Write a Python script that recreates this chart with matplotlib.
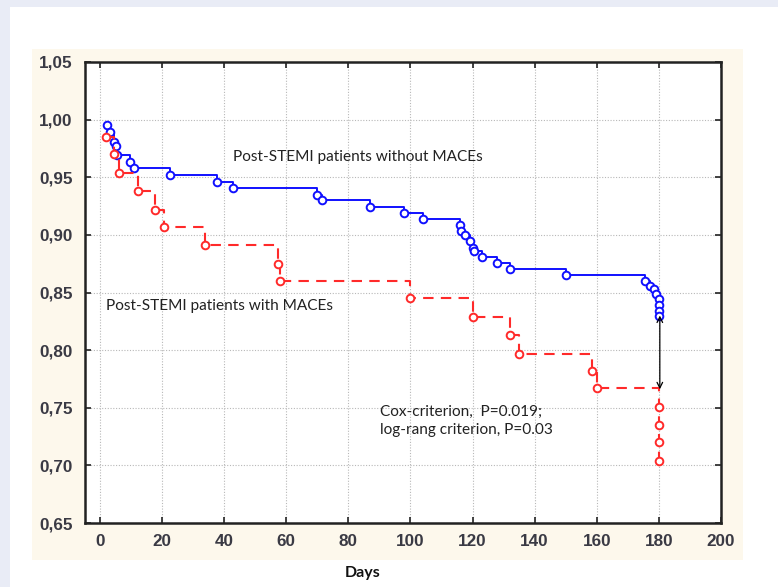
import matplotlib
matplotlib.use('Agg')
import matplotlib.pyplot as plt
from matplotlib.patches import Rectangle

# Kaplan-Meier data
no_mace_days = [2.2, 3.4, 4.6, 5.2, 5.6, 9.8, 11, 22.5, 37.7, 43, 70, 71.5, 87, 98, 104,
                116, 116.2, 117.5, 119.3, 120, 120.5, 123, 128, 132, 150,
                175.5, 177, 178.5, 179, 180, 180, 180, 180]
no_mace_surv = [0.995, 0.989, 0.981, 0.977, 0.969, 0.963, 0.958, 0.952, 0.946, 0.941, 0.935,
                0.930, 0.924, 0.919, 0.914, 0.909, 0.903, 0.900, 0.895, 0.889, 0.886, 0.881,
                0.876, 0.870, 0.865, 0.860, 0.856, 0.853, 0.849, 0.844, 0.839, 0.834, 0.830]

mace_days = [2, 4.5, 6, 12.4, 17.7, 20.7, 34, 57.5, 58, 100, 120, 132, 135, 158.5, 160,
             180, 180, 180, 180]
mace_surv = [0.985, 0.970, 0.954, 0.938, 0.922, 0.907, 0.891, 0.875, 0.860, 0.845, 0.829,
             0.813, 0.797, 0.782, 0.767, 0.751, 0.735, 0.720, 0.704]

x_ticks = list(range(0, 201, 20))
y_ticks = [0.65, 0.70, 0.75, 0.80, 0.85, 0.90, 0.95, 1.00, 1.05]
y_tick_labels = ['0,65', '0,70', '0,75', '0,80', '0,85', '0,90', '0,95', '1,00', '1,05']

label_without = 'Post-STEMI patients without MACEs'
label_with = 'Post-STEMI patients with MACEs'
stats_text = 'Cox-criterion,  P=0.019;\nlog-rang criterion, P=0.03'
arrow_top, arrow_bottom = 0.830, 0.766

W, H = 778, 587
fig = plt.figure(figsize=(W / 100, H / 100), dpi=100)
fig.patch.set_facecolor('#e9ecf6')
fig.add_artist(Rectangle((10 / W, 0), 1, 1 - 7 / H, transform=fig.transFigure,
                         facecolor='white', edgecolor='none', zorder=-2))
fig.add_artist(Rectangle((32 / W, 1 - 560 / H), (743 - 32) / W, (560 - 49) / H,
                         transform=fig.transFigure, facecolor='#fdf8ec', edgecolor='none', zorder=-1))

ax = fig.add_axes([85 / W, 1 - 523 / H, (721 - 85) / W, (523 - 62) / H])
ax.set_facecolor('white')
ax.set_xlim(-4.8, 200)
ax.set_ylim(0.65, 1.05)

ax.plot(no_mace_days, no_mace_surv, drawstyle='steps-post', color='#1010ff', lw=1.4,
        marker='o', ms=5.5, mfc='white', mec='#1010ff', mew=1.4, zorder=3)
ax.plot(mace_days, mace_surv, drawstyle='steps-post', color='#ff2a2a', lw=1.5,
        dashes=(5, 3.5), marker='o', ms=5.5, mfc='white', mec='#ff2a2a', mew=1.4, zorder=3)

ax.annotate('', xy=(180.3, arrow_top), xytext=(180.3, arrow_bottom),
            arrowprops=dict(arrowstyle='<->', color='black', lw=0.9,
                            shrinkA=0, shrinkB=0, mutation_scale=10), zorder=4)

tf = ['Lato', 'DejaVu Sans']
ax.text(42.9, 0.9675, label_without, fontsize=11.1, family=tf, color='#222222', va='center', ha='left')
ax.text(1.9, 0.838, label_with, fontsize=11.1, family=tf, color='#222222', va='center', ha='left')
ax.text(90.3, 0.7385, stats_text, fontsize=11.1, family=tf, color='#222222', va='center', ha='left',
        linespacing=1.4)

ax.set_xticks(x_ticks)
ax.set_yticks(y_ticks)
ax.set_yticklabels(y_tick_labels)
for lab in ax.get_xticklabels() + ax.get_yticklabels():
    lab.set_family(['Liberation Sans', 'DejaVu Sans'])
    lab.set_fontweight('bold')
    lab.set_fontsize(12.3)
    lab.set_color('#3a3a44')
ax.tick_params(direction='in', length=4, width=1.2, top=True, right=True, color='#222222')
ax.tick_params(axis='x', pad=8)
ax.tick_params(axis='y', pad=9)
ax.grid(True, linestyle=(0, (1, 1.5)), color='#b8b8b8', lw=0.8)
ax.set_axisbelow(True)
for sp in ax.spines.values():
    sp.set_linewidth(1.8)
    sp.set_color('#222222')

fig.text(363 / W, 1 - 573 / H, 'Days', fontsize=11.5, fontweight='bold', family=tf,
         color='#111111', ha='center', va='center')

fig.savefig('out.png', dpi=100, facecolor=fig.get_facecolor())
